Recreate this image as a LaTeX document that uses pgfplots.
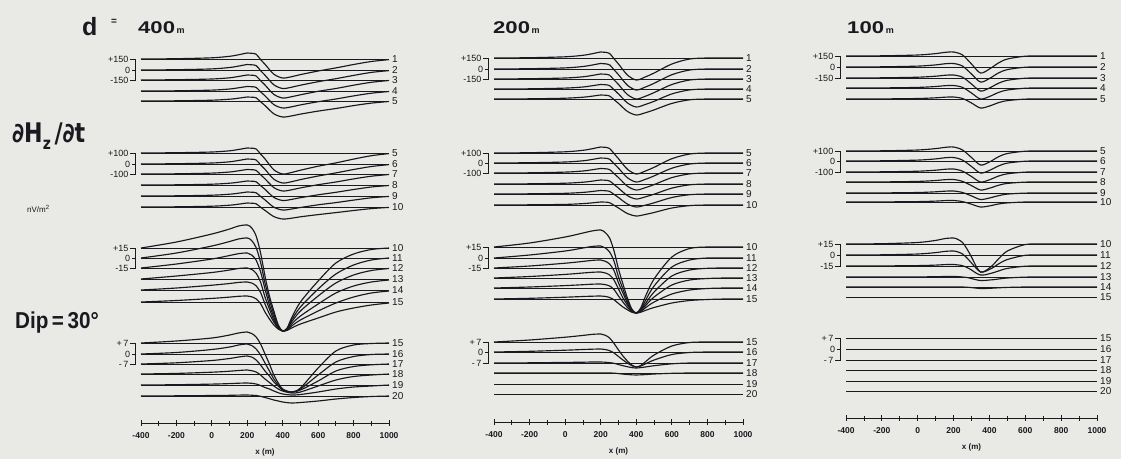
\documentclass[border=0pt]{standalone}
\usepackage{pgfplots}
\pgfplotsset{compat=1.18}
\usepackage{pgfplotstable}
\usepackage{graphicx}
\usepackage{fontspec}
\setmainfont{Liberation Sans}
\newfontfamily\djv{DejaVu Sans}
\definecolor{bg}{RGB}{233,233,229}
\definecolor{ink}{RGB}{25,25,32}

% ---------- d = 400 m ----------
\pgfplotstableread{
x a b c d e
-400 0 0 0 0 0
-200 0.3 0.3 0.3 0.2 0.2
0 1.2 1.1 1 0.9 0.8
100 2.7 2.5 2.2 2 1.8
150 4.2 3.9 3.5 3.2 2.8
200 6 5.5 5 4.5 4
225 5.7 5.2 4.8 4.3 3.8
250 4.8 4.4 4 3.6 3.2
275 -0.5 -0.6 -0.7 -0.8 -0.8
300 -5.3 -5.2 -5 -4.8 -4.5
350 -15.2 -14.8 -14.4 -13.6 -12.8
400 -19 -18.5 -18 -17 -16
450 -17.7 -17.2 -16.7 -15.8 -14.9
500 -15.6 -15.2 -14.8 -13.9 -13.1
600 -12 -11.7 -11.3 -10.7 -10.1
700 -8.9 -8.7 -8.5 -8 -7.5
800 -5.5 -5.4 -5.2 -4.9 -4.6
900 -2.5 -2.4 -2.3 -2.2 -2.1
1000 -0.6 -0.6 -0.5 -0.5 -0.5
}\tAa
\pgfplotstableread{
x a b c d e f
-400 0 0 0 0 0 0
-200 0.3 0.3 0.2 0.2 0.2 0.2
0 1 1 0.9 0.8 0.8 0.8
100 2.2 2.2 2 1.8 1.8 1.8
150 3.5 3.5 3.2 2.8 2.8 2.8
200 5 5 4.5 4 4 4
225 4.8 4.8 4.3 3.8 3.8 3.8
250 4 4 3.6 3.2 3.2 3.2
275 -1 -0.8 -0.7 -0.6 -0.4 -0.2
300 -5.9 -5.3 -4.8 -4.3 -3.9 -3.4
350 -16.8 -15.2 -13.6 -12.4 -11.2 -9.6
400 -21 -19 -17 -15.5 -14 -12
450 -19.5 -17.7 -15.8 -14.4 -13 -11.2
500 -17.2 -15.6 -13.9 -12.7 -11.5 -9.8
600 -13.2 -12 -10.7 -9.8 -8.8 -7.6
700 -9.9 -8.9 -8 -7.3 -6.6 -5.6
800 -6.1 -5.5 -4.9 -4.5 -4.1 -3.5
900 -2.7 -2.5 -2.2 -2 -1.8 -1.6
1000 -0.6 -0.6 -0.5 -0.5 -0.4 -0.4
}\tAb
\pgfplotstableread{
x a b c d e f
-400 0 0 0 0 0 0
-200 6 5 4 3 2 1.5
0 14 12 9 6.5 4.8 3.6
100 19 16.5 12.5 9 6.5 4.9
150 22 19 14.3 10.5 7.6 5.7
200 23 20 15 11 8 6
225 20 17.4 13 9.6 7 5.2
250 12 10.4 7.8 5.7 4.2 3.1
275 -5 -4.4 -3.8 -3.1 -2.5 -1.7
300 -28 -25 -21 -18 -14 -10
325 -48 -42 -37 -30 -24 -17
350 -63 -56 -49 -41 -32 -23
375 -77 -68 -59 -48.5 -38.5 -27
400 -83 -73 -63 -52 -41 -29
425 -80 -70.5 -61 -50.5 -40 -28.3
450 -70 -62 -54 -45 -36 -26
500 -54 -49 -43 -37 -30 -22
600 -33 -31 -28 -25 -21 -16
700 -15 -16 -15 -14 -13 -10
800 -6 -7 -7 -7 -7 -6
900 -1.5 -2 -2.5 -3 -3 -3
1000 0 0 -0.5 -1 -1 -1
}\tAc
\pgfplotstableread{
x a b c d e f
-400 0 0 0 0 0 0
-200 2 1.5 1.2 0.6 0.3 0.2
0 5 4.5 3.5 1.8 0.9 0.5
100 8 7 5.5 2.8 1.4 0.7
150 10 9 7 3.5 1.8 0.9
200 11 10 8 4 2 1
225 9.5 8.5 7 3.3 1.7 0.8
250 6 5 4 2 1 0.5
275 -1 -1 -1 -1 -0.5 -0.3
300 -11 -9 -7 -5 -2.5 -1.5
325 -21 -17 -12 -8.5 -4 -2.7
350 -32 -25 -18 -12 -6 -4
375 -40 -31 -22 -15 -7.7 -5
400 -46 -36 -26 -17 -9 -6
450 -49 -38 -28 -19 -10 -7
500 -45 -35 -26 -18 -9.5 -6.5
600 -25 -21 -17 -12 -7 -5
700 -8 -8 -7 -6 -4 -3
800 -2 -2.5 -2.5 -2.5 -2 -1.5
900 -0.5 -0.5 -0.8 -1 -1 -0.5
1000 0 0 0 0 0 0
}\tAd

% ---------- d = 200 m ----------
\pgfplotstableread{
x a b c d e
-400 0 0 0 0 0
-200 0.3 0.3 0.3 0.2 0.2
0 1.2 1.1 1 0.9 0.8
100 2.7 2.5 2.2 2 1.8
150 4.2 3.9 3.5 3.2 2.8
200 6 5.5 5 4.5 4
225 5.7 5.2 4.8 4.3 3.8
250 4.5 4.1 3.8 3.4 3
275 -0.8 -0.8 -0.9 -0.8 -0.7
300 -6 -5.7 -5.5 -4.9 -4.4
350 -17 -16.2 -15.5 -13.9 -12.4
400 -22 -21 -20 -18 -16
450 -19 -18.1 -17.3 -15.5 -13.8
500 -15 -14.3 -13.6 -12.3 -10.9
600 -6 -5.7 -5.5 -4.9 -4.4
700 -1 -1 -1 -0.9 -0.8
800 0 0 0 0 0
900 0 0 0 0 0
1000 0 0 0 0 0
}\tBa
\pgfplotstableread{
x a b c d e f
-400 0 0 0 0 0 0
-200 0.3 0.3 0.2 0.2 0.2 0.2
0 1.2 1 0.9 0.8 0.7 0.6
100 2.7 2.2 2 1.8 1.6 1.4
150 4.2 3.5 3.2 2.8 2.5 2.1
200 6 5 4.5 4 3.5 3
225 5.7 4.8 4.3 3.8 3.3 2.9
250 4.5 3.8 3.4 3 2.6 2.3
275 -0.6 -0.7 -0.6 -0.5 -0.4 -0.3
300 -5.7 -5.2 -4.6 -4.1 -3.5 -3
350 -16.2 -14.7 -13.2 -11.6 -10 -8.5
400 -21 -19 -17 -15 -13 -11
450 -18.1 -16.4 -14.7 -12.9 -11.2 -9.5
500 -14.3 -12.9 -11.6 -10.2 -8.8 -7.5
600 -5.7 -5.2 -4.6 -4.1 -3.5 -3
700 -1 -1 -0.9 -0.8 -0.7 -0.6
800 0 0 0 0 0 0
900 0 0 0 0 0 0
1000 0 0 0 0 0 0
}\tBb
\pgfplotstableread{
x a b c d e f
-400 0 0 0 0 0 0
-200 4 3 2 1.5 1 0.7
0 10 7 4.8 3.6 2.4 1.8
100 14 10 6.6 5 3.3 2.5
150 16 11.5 7.6 5.7 3.8 2.8
200 17 12 8 6 4 3
225 14.5 10.2 6.8 5.1 3.4 2.6
250 9 6 4 3 2 1.5
275 -4 -3.3 -2.7 -2.1 -1.5 -0.8
300 -22 -19 -15 -11 -8 -4.5
325 -37 -31 -25 -20 -14 -8
350 -51 -43 -35 -27 -19.5 -10.8
375 -62 -52 -42.5 -33 -23.5 -13.2
400 -66 -55 -45 -35 -25 -14
425 -61 -51.5 -42 -33 -23.5 -13.2
450 -50 -43 -36 -28 -20 -11.5
500 -32 -28 -24 -19 -14 -8.5
600 -10 -9 -8 -7 -6 -4
700 -1.5 -2 -2 -2 -2 -1.5
800 0 0 -0.3 -0.5 -0.5 -0.5
900 0 0 0 0 0 0
1000 0 0 0 0 0 0
}\tBc
\pgfplotstableread{
x a b c d
-400 0 0 0 0
-200 2 0.7 0.2 0
0 4.8 1.8 0.6 0
100 6.6 2.5 0.8 0
150 7.6 2.8 1 0
200 8 3 1 0
225 6.8 2.5 0.8 0
250 4 1.3 0.4 0
275 -1.5 -1 -0.3 -0.1
300 -8 -4.5 -1.5 -0.6
325 -14 -8 -2.7 -1.1
350 -19 -11 -3.7 -1.5
375 -23 -13.7 -4.6 -1.8
400 -25 -15 -5 -2
425 -23.5 -14 -4.6 -1.8
450 -20 -12 -4 -1.6
500 -13 -8 -2.7 -1
600 -4 -2.5 -0.8 -0.3
700 -0.5 -0.5 0 0
800 0 0 0 0
900 0 0 0 0
1000 0 0 0 0
}\tBd

% ---------- d = 100 m ----------
\pgfplotstableread{
x a b c d e
-400 0 0 0 0 0
-200 0.2 0.2 0.2 0.1 0.1
0 1 0.9 0.8 0.6 0.5
100 2.4 2.1 1.8 1.5 1.2
150 3.6 3.2 2.7 2.3 1.8
200 4 3.5 3 2.5 2
250 1 0.9 0.8 0.6 0.5
300 -8 -7 -6 -5 -4
350 -17 -15 -13 -11 -9
400 -13 -11.5 -10 -8.5 -7
450 -7 -6 -5.3 -4.5 -3.7
500 -3 -2.6 -2.3 -2 -1.6
600 -0.2 -0.2 -0.2 -0.2 -0.1
700 0 0 0 0 0
800 0 0 0 0 0
900 0 0 0 0 0
1000 0 0 0 0 0
}\tCa
\pgfplotstableread{
x a b c d e f
-400 0 0 0 0 0 0
-200 0.2 0.2 0.2 0.1 0.1 0.1
0 1 0.9 0.8 0.6 0.5 0.4
100 2.4 2.1 1.8 1.5 1.2 0.9
150 3.6 3.2 2.7 2.3 1.8 1.4
200 4 3.5 3 2.5 2 1.5
250 1 0.9 0.8 0.6 0.5 0.4
300 -6.5 -5.5 -4.5 -3.6 -2.9 -2.2
350 -14 -12 -10 -8 -6.5 -5
400 -11 -9.4 -7.8 -6.2 -5 -3.9
450 -5.8 -5 -4.1 -3.3 -2.7 -2
500 -2.5 -2.1 -1.8 -1.4 -1.1 -0.9
600 -0.2 -0.2 -0.1 -0.1 -0.1 0
700 0 0 0 0 0 0
800 0 0 0 0 0 0
900 0 0 0 0 0 0
1000 0 0 0 0 0 0
}\tCb
\pgfplotstableread{
x a b c d e
-400 0 0 0 0 0
-200 0.3 0.2 0.1 0 0
0 1.5 1 0.4 0.1 0
100 3.6 2.4 0.9 0.3 0
150 5.4 3.6 1.4 0.5 0
200 6 4 1.5 0.5 0
225 4.5 3 1.1 0.4 0
250 1.5 1 0.3 0 0
275 -5 -3 -1.5 -0.5 -0.2
300 -13 -8 -4 -1.5 -0.6
325 -22 -13 -7 -2.7 -1.1
350 -28 -17 -9 -3.5 -1.5
375 -27 -16.5 -8.8 -3.4 -1.5
400 -24 -14.5 -7.7 -3 -1.3
425 -20 -12 -6.5 -2.6 -1.1
450 -15 -9 -5 -2 -0.8
500 -7 -4.5 -2.4 -1 -0.4
600 -0.5 -0.3 -0.2 -0.1 0
700 0 0 0 0 0
800 0 0 0 0 0
900 0 0 0 0 0
1000 0 0 0 0 0
}\tCc

\newcommand{\bl}[1]{\addplot[ink, line width=0.85pt] coordinates {(-400,-#1) (1000,-#1)};}
\newcommand{\cv}[3]{\addplot[ink, line width=1.15pt, smooth] table[x=x, y expr=\thisrow{#2}-#3] {#1};}
\newcommand{\lab}[2]{\node[anchor=west, inner sep=0pt, xshift=3pt, font=\fontsize{10}{10}\selectfont, text=ink] at (axis cs:1000,-#1) {#2};}
\newcommand{\brk}[6]{%
  \draw[ink, line width=0.7pt] (axis cs:-462,-#1) -- (axis cs:-432,-#1) -- (axis cs:-432,-#3) -- (axis cs:-462,-#3);
  \draw[ink, line width=0.7pt] (axis cs:-432,-#2) -- (axis cs:-452,-#2);
  \node[anchor=east, inner sep=0pt, font=\fontsize{9}{9}\selectfont, text=ink] at (axis cs:-470,-#1) {#4};
  \node[anchor=east, inner sep=0pt, font=\fontsize{9}{9}\selectfont, text=ink] at (axis cs:-460,-#2) {#5};
  \node[anchor=east, inner sep=0pt, font=\fontsize{9}{9}\selectfont, text=ink] at (axis cs:-470,-#3) {#6};
}

\pgfplotsset{colax/.style={
  scale only axis, xmin=-400, xmax=1000, ymax=0,
  axis y line=none, axis x line=bottom,
  axis line style={ink, line width=0.8pt, -},
  xtick={-400,-200,...,1000}, minor xtick={-300,-100,...,900},
  xtick align=center, major tick length=6pt, minor tick length=5pt,
  tick style={ink, line width=0.8pt},
  /pgf/number format/assume math mode=true, /pgf/number format/1000 sep={},
  xticklabel style={font=\fontsize{8.5}{9}\selectfont\bfseries, text=ink, yshift=-3pt},
  xlabel={x (m)}, xlabel style={font=\fontsize{8}{9}\selectfont\bfseries, text=ink, yshift=-3pt},
  clip=false,
}}

\begin{document}
\begin{tikzpicture}
\useasboundingbox (0pt,-459pt) rectangle (1121pt,0pt);
\fill[bg] (0pt,-459pt) rectangle (1121pt,0pt);

% ===== column 1 =====
\begin{axis}[colax, at={(141pt,-423pt)}, anchor=south west, width=248pt, height=423pt, ymin=-423]
\bl{59}\bl{70}\bl{80}\bl{91}\bl{101}
\cv{\tAa}{a}{59}\cv{\tAa}{b}{70}\cv{\tAa}{c}{80}\cv{\tAa}{d}{91}\cv{\tAa}{e}{101}
\lab{59}{1}\lab{70}{2}\lab{80}{3}\lab{91}{4}\lab{101}{5}
\brk{59}{70}{80}{+150}{0}{-150}
\bl{153}\bl{164}\bl{174}\bl{185}\bl{196}\bl{207}
\cv{\tAb}{a}{153}\cv{\tAb}{b}{164}\cv{\tAb}{c}{174}\cv{\tAb}{d}{185}\cv{\tAb}{e}{196}\cv{\tAb}{f}{207}
\lab{153}{5}\lab{164}{6}\lab{174}{7}\lab{185}{8}\lab{196}{9}\lab{207}{10}
\brk{153}{164}{174}{+100}{0}{-100}
\bl{248}\bl{258}\bl{268}\bl{279}\bl{290}\bl{302}
\cv{\tAc}{a}{248}\cv{\tAc}{b}{258}\cv{\tAc}{c}{268}\cv{\tAc}{d}{279}\cv{\tAc}{e}{290}\cv{\tAc}{f}{302}
\lab{248}{10}\lab{258}{11}\lab{268}{12}\lab{279}{13}\lab{290}{14}\lab{302}{15}
\brk{248}{258}{268}{+15}{0}{-15}
\bl{343}\bl{354}\bl{364}\bl{374}\bl{385}\bl{396}
\cv{\tAd}{a}{343}\cv{\tAd}{b}{354}\cv{\tAd}{c}{364}\cv{\tAd}{d}{374}\cv{\tAd}{e}{385}\cv{\tAd}{f}{396}
\lab{343}{15}\lab{354}{16}\lab{364}{17}\lab{374}{18}\lab{385}{19}\lab{396}{20}
\brk{343}{354}{364}{+\,7}{0}{-\,7}
\end{axis}

% ===== column 2 =====
\begin{axis}[colax, at={(494pt,-422pt)}, anchor=south west, width=249pt, height=422pt, ymin=-422]
\bl{58}\bl{69}\bl{79}\bl{89}\bl{99}
\cv{\tBa}{a}{58}\cv{\tBa}{b}{69}\cv{\tBa}{c}{79}\cv{\tBa}{d}{89}\cv{\tBa}{e}{99}
\lab{58}{1}\lab{69}{2}\lab{79}{3}\lab{89}{4}\lab{99}{5}
\brk{58}{69}{79}{+150}{0}{-150}
\bl{153}\bl{163}\bl{173}\bl{184}\bl{194}\bl{205}
\cv{\tBb}{a}{153}\cv{\tBb}{b}{163}\cv{\tBb}{c}{173}\cv{\tBb}{d}{184}\cv{\tBb}{e}{194}\cv{\tBb}{f}{205}
\lab{153}{5}\lab{163}{6}\lab{173}{7}\lab{184}{8}\lab{194}{9}\lab{205}{10}
\brk{153}{163}{173}{+100}{0}{-100}
\bl{247}\bl{258}\bl{268}\bl{278}\bl{288}\bl{299}
\cv{\tBc}{a}{247}\cv{\tBc}{b}{258}\cv{\tBc}{c}{268}\cv{\tBc}{d}{278}\cv{\tBc}{e}{288}\cv{\tBc}{f}{299}
\lab{247}{10}\lab{258}{11}\lab{268}{12}\lab{278}{13}\lab{288}{14}\lab{299}{15}
\brk{247}{258}{268}{+15}{0}{-15}
\bl{342}\bl{352}\bl{363}\bl{373}\bl{384}\bl{394}
\cv{\tBd}{a}{342}\cv{\tBd}{b}{352}\cv{\tBd}{c}{363}\cv{\tBd}{d}{373}
\lab{342}{15}\lab{352}{16}\lab{363}{17}\lab{373}{18}\lab{384}{19}\lab{394}{20}
\brk{342}{352}{363}{+\,7}{0}{-\,7}
\end{axis}

% ===== column 3 =====
\begin{axis}[colax, at={(846pt,-418pt)}, anchor=south west, width=251pt, height=418pt, ymin=-418]
\bl{56}\bl{67}\bl{78}\bl{88}\bl{99}
\cv{\tCa}{a}{56}\cv{\tCa}{b}{67}\cv{\tCa}{c}{78}\cv{\tCa}{d}{88}\cv{\tCa}{e}{99}
\lab{56}{1}\lab{67}{2}\lab{78}{3}\lab{88}{4}\lab{99}{5}
\brk{56}{67}{78}{+150}{0}{-150}
\bl{151}\bl{161}\bl{172}\bl{182}\bl{193}\bl{202}
\cv{\tCb}{a}{151}\cv{\tCb}{b}{161}\cv{\tCb}{c}{172}\cv{\tCb}{d}{182}\cv{\tCb}{e}{193}\cv{\tCb}{f}{202}
\lab{151}{5}\lab{161}{6}\lab{172}{7}\lab{182}{8}\lab{193}{9}\lab{202}{10}
\brk{151}{161}{172}{+100}{0}{-100}
\bl{244}\bl{255}\bl{266}\bl{277}\bl{287}\bl{297}
\cv{\tCc}{a}{244}\cv{\tCc}{b}{255}\cv{\tCc}{c}{266}\cv{\tCc}{d}{277}\cv{\tCc}{e}{287}
\lab{244}{10}\lab{255}{11}\lab{266}{12}\lab{277}{13}\lab{287}{14}\lab{297}{15}
\brk{244}{255}{266}{+15}{0}{-15}
\bl{338}\bl{349}\bl{360}\bl{370}\bl{381}\bl{391}
\lab{338}{15}\lab{349}{16}\lab{360}{17}\lab{370}{18}\lab{381}{19}\lab{391}{20}
\brk{338}{349}{360}{+\,7}{0}{-\,7}
\end{axis}

% ===== titles and side labels =====
\node[anchor=base west, inner sep=0pt, text=ink] at (82pt,-35pt) {\fontsize{25}{25}\selectfont\bfseries d};
\node[inner sep=0pt, text=ink] at (114pt,-22pt) {\fontsize{10}{10}\selectfont\bfseries =};
\node[anchor=base west, inner sep=0pt, text=ink] at (138pt,-33pt) {\scalebox{1.3}[1]{\fontsize{17}{17}\selectfont\bfseries 400}\,{\fontsize{9}{9}\selectfont\bfseries m}};
\node[anchor=base west, inner sep=0pt, text=ink] at (493pt,-33pt) {\scalebox{1.3}[1]{\fontsize{17}{17}\selectfont\bfseries 200}\,{\fontsize{9}{9}\selectfont\bfseries m}};
\node[anchor=base west, inner sep=0pt, text=ink] at (847pt,-33pt) {\scalebox{1.3}[1]{\fontsize{17}{17}\selectfont\bfseries 100}\,{\fontsize{9}{9}\selectfont\bfseries m}};
\node[anchor=base west, inner sep=0pt, text=ink] at (12pt,-142pt) {\scalebox{0.82}[1]{\djv\bfseries\fontsize{27}{27}\selectfont ∂H\raisebox{-7pt}{\fontsize{17}{17}\selectfont z}\,/∂t}};
\node[anchor=base west, inner sep=0pt, text=ink] at (27pt,-212pt) {\fontsize{8}{8}\selectfont nV/m\textsuperscript{2}};
\node[anchor=base west, inner sep=0pt, text=ink] at (15pt,-328pt) {\scalebox{0.9}[1]{\fontsize{23}{23}\selectfont\bfseries Dip\,=\,30°}};
\end{tikzpicture}
\end{document}
